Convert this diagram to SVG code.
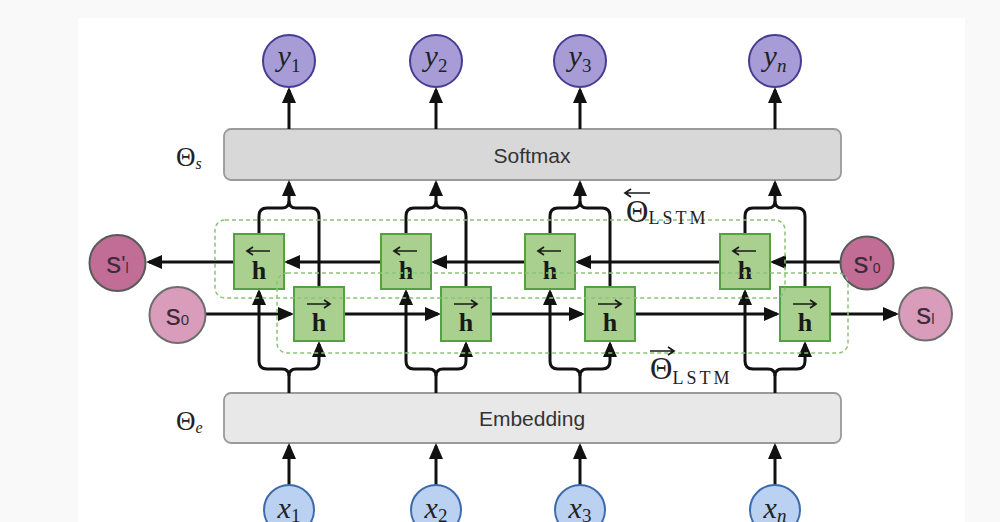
<svg xmlns="http://www.w3.org/2000/svg" width="1000" height="522" viewBox="0 0 1000 522">
<style>
.bg{fill:#f9f9f9}
.panel{fill:#ffffff}
.layer{stroke:#9a9a9a;stroke-width:1.8}
.soft{fill:#d8d8d8}
.emb{fill:#e8e8e8}
.ltxt{font-family:"Liberation Sans",Arial,sans-serif;font-size:21px;fill:#333;text-anchor:middle}
.math{font-family:"Liberation Serif","Times New Roman",serif;fill:#222}
.ycirc{fill:#a79cd6;stroke:#463c93;stroke-width:2}
.xcirc{fill:#bad1f2;stroke:#3c6aaa;stroke-width:2}
.sdark{fill:#c26d96;stroke:#5a5a5a;stroke-width:2}
.slight{fill:#d99cbb;stroke:#6e6e6e;stroke-width:2}
.stxt{font-family:"Liberation Sans",Arial,sans-serif;font-size:30px;fill:#3a2c3a;text-anchor:middle}
.hbox{fill:#a9d08e;stroke:#55a044;stroke-width:2}
.htxt{font-family:"Liberation Serif","Times New Roman",serif;font-weight:bold;font-size:26px;fill:#1a1a1a;text-anchor:middle}
.harr{fill:none;stroke:#1a1a1a;stroke-width:1.7}
.conn{fill:none;stroke:#111;stroke-width:3}
.grp{fill:none;stroke:#8cc279;stroke-width:1.5;stroke-dasharray:4 3}
</style>
<defs>
<marker id="arr" viewBox="0 0 16 14" markerWidth="16" markerHeight="14" refX="13" refY="7" orient="auto" markerUnits="userSpaceOnUse">
<path d="M0,0 L16,7 L0,14 z" fill="#111"/>
</marker>
</defs>
<rect class="bg" x="0" y="0" width="1000" height="522"/>
<rect class="panel" x="78" y="18" width="887" height="504"/>

<g id="softmax">
<rect class="layer soft" x="224" y="129" width="617" height="51" rx="7"/>
<text class="ltxt" x="532" y="163">Softmax</text>
</g>
<g id="theta-s">
<text class="math" x="176" y="166" font-size="27">Θ<tspan font-style="italic" font-size="16" dy="3">s</tspan></text>
</g>
<g id="embedding">
<rect class="layer emb" x="224" y="393" width="617" height="50" rx="7"/>
<text class="ltxt" x="532" y="426">Embedding</text>
</g>
<g id="theta-e">
<text class="math" x="176" y="430" font-size="27">Θ<tspan font-style="italic" font-size="16" dy="3">e</tspan></text>
</g>

<g id="connectors">
<path class="conn" marker-end="url(#arr)" d="M289,129 V90"/>
<path class="conn" marker-end="url(#arr)" d="M436,129 V90"/>
<path class="conn" marker-end="url(#arr)" d="M580,129 V90"/>
<path class="conn" marker-end="url(#arr)" d="M775,129 V90"/>
<path class="conn" marker-end="url(#arr)" d="M289,485 V446"/>
<path class="conn" marker-end="url(#arr)" d="M436,485 V446"/>
<path class="conn" marker-end="url(#arr)" d="M580,485 V446"/>
<path class="conn" marker-end="url(#arr)" d="M775,485 V446"/>
<path class="conn" marker-end="url(#arr)" d="M259,234 V216 Q259,208 267,208 H282 Q289,208 289,201 V183"/>
<path class="conn" d="M319,287 V216 Q319,208 311,208 H296 Q289,208 289,201"/>
<path class="conn" marker-end="url(#arr)" d="M406,234 V216 Q406,208 414,208 H429 Q436,208 436,201 V183"/>
<path class="conn" d="M466,287 V216 Q466,208 458,208 H443 Q436,208 436,201"/>
<path class="conn" marker-end="url(#arr)" d="M550,234 V216 Q550,208 558,208 H573 Q580,208 580,201 V183"/>
<path class="conn" d="M610,287 V216 Q610,208 602,208 H587 Q580,208 580,201"/>
<path class="conn" marker-end="url(#arr)" d="M745,234 V216 Q745,208 753,208 H768 Q775,208 775,201 V183"/>
<path class="conn" d="M805,287 V216 Q805,208 797,208 H782 Q775,208 775,201"/>
<path class="conn" marker-end="url(#arr)" d="M289,393 V376 Q289,369 282,369 H267 Q259,369 259,361 V292"/>
<path class="conn" marker-end="url(#arr)" d="M289,376 Q289,369 296,369 H311 Q319,369 319,361 V344"/>
<path class="conn" marker-end="url(#arr)" d="M436,393 V376 Q436,369 429,369 H414 Q406,369 406,361 V292"/>
<path class="conn" marker-end="url(#arr)" d="M436,376 Q436,369 443,369 H458 Q466,369 466,361 V344"/>
<path class="conn" marker-end="url(#arr)" d="M580,393 V376 Q580,369 573,369 H558 Q550,369 550,361 V292"/>
<path class="conn" marker-end="url(#arr)" d="M580,376 Q580,369 587,369 H602 Q610,369 610,361 V344"/>
<path class="conn" marker-end="url(#arr)" d="M775,393 V376 Q775,369 768,369 H753 Q745,369 745,361 V292"/>
<path class="conn" marker-end="url(#arr)" d="M775,376 Q775,369 782,369 H797 Q805,369 805,361 V344"/>
<path class="conn" marker-end="url(#arr)" d="M841,262 H773"/>
<path class="conn" marker-end="url(#arr)" d="M720,262 H578"/>
<path class="conn" marker-end="url(#arr)" d="M525,262 H434"/>
<path class="conn" marker-end="url(#arr)" d="M381,262 H287"/>
<path class="conn" marker-end="url(#arr)" d="M234,262 H149"/>
<path class="conn" marker-end="url(#arr)" d="M205,314 H291"/>
<path class="conn" marker-end="url(#arr)" d="M344,314 H438"/>
<path class="conn" marker-end="url(#arr)" d="M491,314 H582"/>
<path class="conn" marker-end="url(#arr)" d="M635,314 H777"/>
<path class="conn" marker-end="url(#arr)" d="M830,314 H896"/>
</g>

<g id="y1"><circle class="ycirc" cx="289" cy="61" r="26"/><text class="math" x="289" y="66" font-size="30" text-anchor="middle"><tspan font-style="italic">y</tspan><tspan font-size="19" dy="6">1</tspan></text></g>
<g id="y2"><circle class="ycirc" cx="436" cy="61" r="26"/><text class="math" x="436" y="66" font-size="30" text-anchor="middle"><tspan font-style="italic">y</tspan><tspan font-size="19" dy="6">2</tspan></text></g>
<g id="y3"><circle class="ycirc" cx="580" cy="61" r="26"/><text class="math" x="580" y="66" font-size="30" text-anchor="middle"><tspan font-style="italic">y</tspan><tspan font-size="19" dy="6">3</tspan></text></g>
<g id="yn"><circle class="ycirc" cx="775" cy="61" r="26"/><text class="math" x="775" y="66" font-size="30" text-anchor="middle"><tspan font-style="italic">y</tspan><tspan font-size="19" font-style="italic" dy="6">n</tspan></text></g>

<g id="x1"><circle class="xcirc" cx="289" cy="510" r="25"/><text class="math" x="289" y="518" font-size="30" text-anchor="middle"><tspan font-style="italic">x</tspan><tspan font-size="19" dy="4">1</tspan></text></g>
<g id="x2"><circle class="xcirc" cx="436" cy="510" r="25"/><text class="math" x="436" y="518" font-size="30" text-anchor="middle"><tspan font-style="italic">x</tspan><tspan font-size="19" dy="4">2</tspan></text></g>
<g id="x3"><circle class="xcirc" cx="580" cy="510" r="25"/><text class="math" x="580" y="518" font-size="30" text-anchor="middle"><tspan font-style="italic">x</tspan><tspan font-size="19" dy="4">3</tspan></text></g>
<g id="xn"><circle class="xcirc" cx="775" cy="510" r="25"/><text class="math" x="775" y="518" font-size="30" text-anchor="middle"><tspan font-style="italic">x</tspan><tspan font-size="19" font-style="italic" dy="4">n</tspan></text></g>

<g id="s-prime-l"><circle class="sdark" cx="117.5" cy="263" r="28"/><text class="stxt" x="117.5" y="273">s<tspan font-size="22" dy="-2">'</tspan><tspan font-size="14" dy="2">l</tspan></text></g>
<g id="s0"><circle class="slight" cx="177.5" cy="315" r="28"/><text class="stxt" x="177.5" y="325">s<tspan font-size="15">0</tspan></text></g>
<g id="s-prime-0"><circle class="sdark" cx="867" cy="263" r="26.5"/><text class="stxt" x="867" y="273">s<tspan font-size="22" dy="-2">'</tspan><tspan font-size="14" dy="2">0</tspan></text></g>
<g id="s-l"><circle class="slight" cx="925.5" cy="314" r="26.5"/><text class="stxt" x="925.5" y="324">s<tspan font-size="15">l</tspan></text></g>

<g id="hb1"><rect class="hbox" x="234" y="234" width="50" height="55"/><path class="harr" d="M270,251 H247 M253,247 L247,251 L253,255"/><text class="htxt" x="259" y="279">h</text></g>
<g id="hb2"><rect class="hbox" x="381" y="234" width="50" height="55"/><path class="harr" d="M417,251 H394 M400,247 L394,251 L400,255"/><text class="htxt" x="406" y="279">h</text></g>
<g id="hb3"><rect class="hbox" x="525" y="234" width="50" height="55"/><path class="harr" d="M561,251 H538 M544,247 L538,251 L544,255"/><text class="htxt" x="550" y="279">h</text></g>
<g id="hb4"><rect class="hbox" x="720" y="234" width="50" height="55"/><path class="harr" d="M756,251 H733 M739,247 L733,251 L739,255"/><text class="htxt" x="745" y="279">h</text></g>

<g id="hf1"><rect class="hbox" x="294" y="287" width="50" height="54"/><path class="harr" d="M307,304 H330 M324,300 L330,304 L324,308"/><text class="htxt" x="319" y="331">h</text></g>
<g id="hf2"><rect class="hbox" x="441" y="287" width="50" height="54"/><path class="harr" d="M454,304 H477 M471,300 L477,304 L471,308"/><text class="htxt" x="466" y="331">h</text></g>
<g id="hf3"><rect class="hbox" x="585" y="287" width="50" height="54"/><path class="harr" d="M598,304 H621 M615,300 L621,304 L615,308"/><text class="htxt" x="610" y="331">h</text></g>
<g id="hf4"><rect class="hbox" x="780" y="287" width="50" height="54"/><path class="harr" d="M793,304 H816 M810,300 L816,304 L810,308"/><text class="htxt" x="805" y="331">h</text></g>

<g id="group-backward"><rect class="grp" x="215" y="220" width="570" height="78" rx="10"/></g>
<g id="group-forward"><rect class="grp" x="277" y="273" width="571" height="80" rx="10"/></g>

<g id="theta-lstm-back">
<path class="harr" d="M650,193 H625 M631,189 L625,193 L631,197"/>
<text class="math" x="626" y="222" font-size="31">Θ<tspan font-size="18" dy="2" letter-spacing="3">LSTM</tspan></text>
</g>
<g id="theta-lstm-fwd">
<path class="harr" d="M650,351 H674 M668,347 L674,351 L668,355"/>
<text class="math" x="650" y="379" font-size="31">Θ<tspan font-size="18" dy="5" letter-spacing="3">LSTM</tspan></text>
</g>
</svg>
